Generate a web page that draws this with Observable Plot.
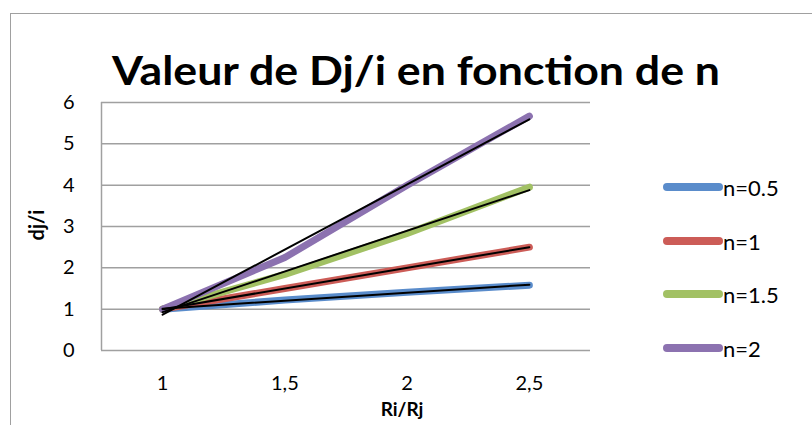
<!DOCTYPE html>
<html>
<head>
<meta charset="utf-8">
<script src="https://cdn.jsdelivr.net/npm/d3@7"></script>
<script src="https://cdn.jsdelivr.net/npm/@observablehq/plot@0.6"></script>
<style>
  html, body { margin: 0; padding: 0; background: #fff; overflow: hidden; }
  #wrap { position: relative; width: 812px; height: 425px; overflow: hidden; font-family: Lato, "Open Sans", sans-serif; }
  #border { position: absolute; left: 10px; top: 13px; width: 900px; height: 500px; border: 1.5px solid #a0a0a0; box-sizing: border-box; }
  #chart { position: absolute; left: 0; top: 0; }
  #title { position: absolute; left: 0; top: 0; }
  #legend { position: absolute; left: 663px; top: 0; }
  .item { position: absolute; left: 0; height: 0; white-space: nowrap; }
  .swatch { position: absolute; left: 0; top: -4px; width: 60px; height: 8px; border-radius: 4px; }
  .lab { position: absolute; left: 60px; top: -10px; font-size: 22px; color: #000; line-height: 1; }
</style>
</head>
<body>
<div id="wrap">
  <div id="border"></div>
  <div id="chart"></div>
  <svg id="title" width="812" height="110"></svg>
  <div id="legend"></div>
</div>
<script>
const ratios = [1, 1.5, 2, 2.5];
const seriesNames = ["n=0.5", "n=1", "n=1.5", "n=2"];
const n05 = [1, 1.22, 1.41, 1.58];
const n1 = [1, 1.5, 2, 2.5];
const n15 = [1, 1.84, 2.83, 3.95];
const n2 = [1, 2.25, 4.0, 5.67];
const yTicks = [0, 1, 2, 3, 4, 5, 6];
const colors = ["#5a8ccb", "#cc5c57", "#a2c164", "#8c72b0"];

const seriesValues = [n05, n1, n15, n2];
const data = [];
seriesNames.forEach((s, i) => {
  ratios.forEach((r, j) => data.push({series: s, x: r, y: seriesValues[i][j]}));
});

const fmt = v => String(v).replace(".", ",");

const chart = Plot.plot({
  width: 812,
  height: 425,
  marginLeft: 101,
  marginRight: 222,
  marginTop: 102,
  marginBottom: 75,
  style: {fontFamily: "Lato, 'Open Sans', sans-serif", fontSize: "20px", color: "#000", background: "transparent"},
  x: {domain: [0.75, 2.75]},
  y: {domain: [0, 6]},
  color: {domain: seriesNames, range: colors},
  marks: [
    Plot.gridY(yTicks, {stroke: "#a0a0a0", strokeOpacity: 1, strokeWidth: 1.5}),
    Plot.ruleX([0.75], {stroke: "#a0a0a0", strokeWidth: 1.5}),
    Plot.axisY(yTicks, {tickSize: 0, tickPadding: 27, label: null, fontSize: 20}),
    Plot.axisX(ratios, {tickSize: 0, tickPadding: 25, tickFormat: fmt, label: null, fontSize: 20}),
    Plot.line(data, {x: "x", y: "y", z: "series", stroke: "series", strokeWidth: 7, strokeLinecap: "round", strokeLinejoin: "round"}),
    Plot.linearRegressionY(data, {x: "x", y: "y", z: "series", stroke: "black", ci: 0, strokeWidth: 2})
  ]
});
document.getElementById("chart").appendChild(chart);

// Title and axis titles
const svg = d3.select("#title");
svg.attr("height", 425).style("overflow", "visible").style("pointer-events", "none");
svg.append("text")
  .attr("x", 112).attr("y", 85)
  .attr("textLength", 608).attr("lengthAdjust", "spacingAndGlyphs")
  .attr("font-family", "Lato, 'Open Sans', sans-serif")
  .attr("font-weight", "bold").attr("font-size", 41)
  .text("Valeur de Dj/i en fonction de n");
svg.append("text")
  .attr("x", 402).attr("y", 416)
  .attr("text-anchor", "middle")
  .attr("font-family", "Lato, 'Open Sans', sans-serif")
  .attr("font-weight", "bold").attr("font-size", 19)
  .text("Ri/Rj");
svg.append("text")
  .attr("transform", "translate(44,225) rotate(-90)")
  .attr("text-anchor", "middle")
  .attr("font-family", "Lato, 'Open Sans', sans-serif")
  .attr("font-weight", "bold").attr("font-size", 20)
  .text("dj/i");

// Legend
const legendTops = [187, 241, 294, 348];
const legend = document.getElementById("legend");
seriesNames.forEach((s, i) => {
  const it = document.createElement("div");
  it.className = "item";
  it.style.top = legendTops[i] + "px";
  it.innerHTML = `<div class="swatch" style="background:${colors[i]}"></div><div class="lab">${s}</div>`;
  legend.appendChild(it);
});
</script>
</body>
</html>
